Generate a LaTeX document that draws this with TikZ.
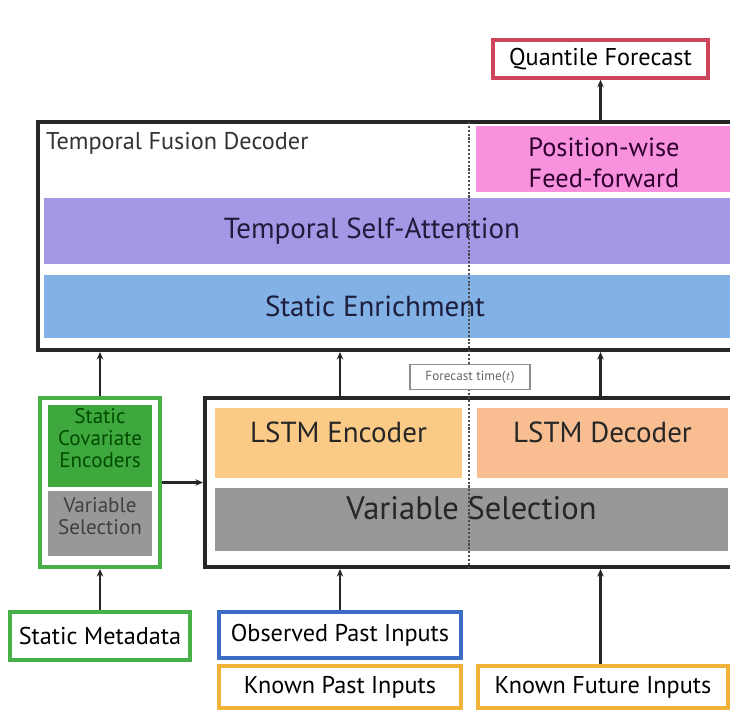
\documentclass[tikz,border=0pt]{standalone}
\usepackage{fontspec}
\setmainfont{PT Sans}
\usetikzlibrary{
    arrows.meta,
    positioning,
    fit
}
\definecolor{ffnpink}{RGB}{249,146,222}
\definecolor{attnpurple}{RGB}{166,150,230}
\definecolor{enrichblue}{RGB}{130,177,230}
\definecolor{encgreen}{RGB}{62,168,62}
\definecolor{selgray}{RGB}{152,152,152}
\definecolor{encorange}{RGB}{250,202,134}
\definecolor{decorange}{RGB}{248,190,146}
\definecolor{textdark}{RGB}{30,30,60}
\tikzset{
    % Colors
    frame color/.style={draw=black!85},
    static color/.style={draw={rgb,255:red,72;green,176;blue,72}},
    observed color/.style={draw={rgb,255:red,62;green,108;blue,196}},
    known color/.style={draw={rgb,255:red,240;green,178;blue,56}},
    output color/.style={draw={rgb,255:red,206;green,70;blue,92}},
    %
    % Boxes
    frame/.style={frame color,line width=2.3pt,inner sep=0pt},
    layer/.style={inner sep=0pt,outer sep=0pt},
    inputbox/.style={line width=2pt,fill=white,inner sep=0pt},
    %
    % Text
    big text/.style={font=\fontsize{16.5}{19}\selectfont,text=textdark},
    mid text/.style={font=\fontsize{15}{18}\selectfont,text=black!65!violet},
    small text/.style={font=\fontsize{12}{12.5}\selectfont,text=black!75},
    tiny text/.style={font=\fontsize{7.5}{9}\selectfont,text=black!60},
    %
    % Arrows
    arrow tip/.tip={Stealth[length=1.5mm,width=1.3mm]},
    arr/.style={->,>={arrow tip},line width=1.3pt,draw=black!85},
    forecast line/.style={densely dotted,line width=1.2pt,draw=black!70}
}
\tikzstyle{every node}=[font=\fontsize{13.8}{16}\selectfont]

\begin{document}
\begin{tikzpicture}[x=0.2mm,y=-0.2mm]
    \useasboundingbox (0,0) rectangle (730,711);
    \clip (0,0) rectangle (730,711);
    % temporal fusion decoder
    \node[frame,fit={(38,122) (738,350)}] (tfd) {};
    \node[anchor=north west,text=black!80] (tfdlabel) at (40,126) {Temporal Fusion Decoder};
    \node[layer,fill=ffnpink,fit={(476,126) (736,192)}] (ffn) {};
    \node[mid text,align=center] (ffnlabel) at (604,163) {Position-wise\\Feed-forward};
    \node[layer,fill=attnpurple,fit={(44,198) (736,264)}] (attn) {};
    \node[big text] (attnlabel) at (372,231) {Temporal Self-Attention};
    \node[layer,fill=enrichblue,fit={(44,275) (736,338)}] (enrich) {};
    \node[big text] (enrichlabel) at (375,306) {Static Enrichment};
    \node[inputbox,output color,fit={(493,40) (708,78)}] (quantile) {};
    \node (quantilelabel) at (quantile) {Quantile Forecast};
    % static covariates
    \node[frame,static color,fit={(40,398) (160,567)}] (staticbox) {};
    \node[layer,fill=encgreen,fit={(48,405) (152,487)},small text,text=black!70!green,align=center] (sce) {Static\\Covariate\\Encoders};
    \node[layer,fill=selgray,fit={(48,491) (152,556)},small text,align=center] (svs) {Variable\\Selection};
    % lstm part
    \node[frame,fit={(205,398) (738,567)}] (lower) {};
    \node[layer,fill=encorange,fit={(215,408) (462,478)},big text,text=black!85] (lstmenc) {LSTM Encoder};
    \node[layer,fill=decorange,fit={(477,408) (728,478)},big text,text=black!85] (lstmdec) {LSTM Decoder};
    \node[layer,fill=selgray,fit={(215,488) (728,551)},big text,font=\fontsize{18.5}{21}\selectfont,text=black!85] (vsel) {Variable Selection};
    \draw[forecast line] (469,122) -- (469,567);
    \node[draw=black!45,fill=white,line width=.7pt,tiny text,minimum width=24mm,minimum height=5mm] (fctime) at (470,377) {Forecast time($t$)};
    % inputs
    \node[inputbox,static color,fit={(10,612) (190,660)}] (meta) {};
    \node (metalabel) at (meta) {Static Metadata};
    \node[inputbox,observed color,fit={(219,612) (461,658)}] (observed) {};
    \node (observedlabel) at (observed) {Observed Past Inputs};
    \node[inputbox,known color,fit={(219,666) (461,708)}] (knownpast) {};
    \node (knownpastlabel) at (knownpast) {Known Past Inputs};
    \node[inputbox,known color,fit={(478,666) (728,708)}] (knownfuture) {};
    \node (knownfuturelabel) at (knownfuture) {Known Future Inputs};
    % connectors
    \draw[arr] (quantile.south |- tfd.north) -- (quantile.south);
    \draw[arr] (staticbox.north) -- (staticbox.north |- tfd.south);
    \draw[arr] (observed.north |- lower.north) -- (observed.north |- tfd.south);
    \draw[arr] (quantile.south |- lower.north) -- (quantile.south |- tfd.south);
    \draw[arr] (staticbox.east) -- (lower.west);
    \draw[arr] (meta) -- (staticbox);
    \draw[arr] (observed) -- (observed |- lower.south);
    \draw[arr] (knownfuture.north -| quantile.south) -- (quantile.south |- lower.south);
\end{tikzpicture}
\end{document}
